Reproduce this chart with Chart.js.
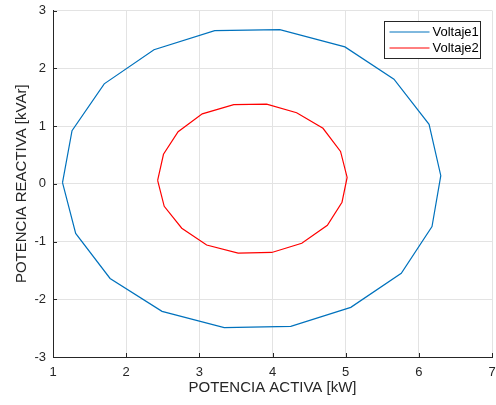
<!DOCTYPE html>
<html>
<head>
  <meta name="viewport" content="width=device-width, initial-scale=1.0">
  <title>Potencia activa vs reactiva</title>
  <script src="https://cdn.jsdelivr.net/npm/chart.js"></script>
  <style>
    body {
      margin: 0;
      padding: 0;
      background: #ffffff;
    }
    #wrap {
      width: 496px;
      height: 405px;
    }
  </style>
</head>
<body>
  <div id="wrap"><canvas id="myChart" width="496" height="405"></canvas></div>

  <script>
    // Datos: potencia activa (kW) y reactiva (kVAr) de cada curva
    const p1 = [1.13, 1.26, 1.70, 2.38, 3.21, 4.10, 4.99, 5.66, 6.14, 6.30, 6.18, 5.76, 5.07, 4.25, 3.34, 2.49, 1.78, 1.31, 1.13];
    const q1 = [0.02, 0.92, 1.73, 2.32, 2.65, 2.67, 2.37, 1.81, 1.03, 0.14, -0.74, -1.55, -2.14, -2.47, -2.49, -2.21, -1.64, -0.86, 0.02];
    const p2 = [2.43, 2.51, 2.71, 3.04, 3.47, 3.92, 4.33, 4.69, 4.93, 5.02, 4.95, 4.75, 4.40, 3.99, 3.53, 3.10, 2.76, 2.52, 2.43];
    const q2 = [0.06, 0.51, 0.90, 1.21, 1.37, 1.38, 1.23, 0.96, 0.56, 0.11, -0.32, -0.72, -1.03, -1.19, -1.20, -1.06, -0.77, -0.39, 0.06];

    const etiquetas = ['Voltaje1', 'Voltaje2'];
    const colores = ['#0072BD', '#FF0000'];
    const xTicks = [1, 2, 3, 4, 5, 6, 7];
    const yTicks = [-3, -2, -1, 0, 1, 2, 3];

    const fuente = 'Arial, "Liberation Sans", Helvetica, sans-serif';
    const gris = '#262626';

    function puntos(xs, ys) {
      return xs.map((x, i) => ({ x: x, y: ys[i] }));
    }

    // Marcas de los ejes hacia dentro y leyenda en la esquina superior derecha
    const extras = {
      id: 'extras',
      afterDraw(chart) {
        const ctx = chart.ctx;
        const area = chart.chartArea;
        const sx = chart.scales.x;
        const sy = chart.scales.y;
        ctx.save();
        ctx.strokeStyle = gris;
        ctx.lineWidth = 1;
        ctx.beginPath();
        xTicks.forEach(v => {
          const px = Math.round(sx.getPixelForValue(v)) + 0.5;
          ctx.moveTo(px, area.bottom);
          ctx.lineTo(px, area.bottom - 4);
        });
        yTicks.forEach(v => {
          const py = Math.round(sy.getPixelForValue(v)) + 0.5;
          ctx.moveTo(area.left, py);
          ctx.lineTo(area.left + 4, py);
        });
        ctx.stroke();

        // leyenda
        const lx = 384.5, ly = 21.5, lw = 96, lh = 37;
        ctx.fillStyle = '#ffffff';
        ctx.fillRect(lx, ly, lw, lh);
        ctx.strokeStyle = gris;
        ctx.strokeRect(lx, ly, lw, lh);
        ctx.font = '13px ' + fuente;
        ctx.textBaseline = 'middle';
        chart.data.datasets.forEach((ds, i) => {
          const y = ly + 10.5 + i * 16;
          ctx.strokeStyle = ds.borderColor;
          ctx.beginPath();
          ctx.moveTo(lx + 5, y);
          ctx.lineTo(lx + 45, y);
          ctx.stroke();
          ctx.fillStyle = '#000000';
          ctx.fillText(ds.label, lx + 48, y + 0.5);
        });
        ctx.restore();
      }
    };

    const ctx = document.getElementById('myChart').getContext('2d');
    const chart = new Chart(ctx, {
      type: 'scatter',
      data: {
        datasets: [
          {
            label: etiquetas[0],
            data: puntos(p1, q1),
            borderColor: colores[0],
            backgroundColor: colores[0],
            borderWidth: 1.2,
            showLine: true,
            pointRadius: 0,
            tension: 0
          },
          {
            label: etiquetas[1],
            data: puntos(p2, q2),
            borderColor: colores[1],
            backgroundColor: colores[1],
            borderWidth: 1.2,
            showLine: true,
            pointRadius: 0,
            tension: 0
          }
        ]
      },
      options: {
        responsive: false,
        animation: false,
        layout: {
          padding: { left: 0, top: 10.5, right: 4, bottom: 0 }
        },
        plugins: {
          legend: { display: false },
          tooltip: { enabled: false }
        },
        scales: {
          x: {
            type: 'linear',
            min: 1,
            max: 7,
            afterBuildTicks: axis => { axis.ticks = xTicks.map(v => ({ value: v })); },
            afterFit: axis => {
              axis.height = 48;
              axis.paddingLeft = 0;
              axis.paddingRight = 0;
            },
            grid: { color: '#e3e3e3', drawTicks: false },
            border: { color: gris, width: 1 },
            ticks: {
              padding: 8,
              color: gris,
              font: { family: fuente, size: 13 }
            },
            title: {
              display: true,
              text: 'POTENCIA ACTIVA [kW]',
              color: gris,
              padding: { top: 0, bottom: 8 },
              font: { family: fuente, size: 15 }
            }
          },
          y: {
            type: 'linear',
            min: -3,
            max: 3,
            afterBuildTicks: axis => { axis.ticks = yTicks.map(v => ({ value: v })); },
            afterFit: axis => {
              axis.width = 53;
              axis.paddingTop = 0;
              axis.paddingBottom = 0;
            },
            grid: { color: '#e3e3e3', drawTicks: false },
            border: { color: gris, width: 1 },
            ticks: {
              padding: 7,
              color: gris,
              font: { family: fuente, size: 13 }
            },
            title: {
              display: true,
              text: 'POTENCIA REACTIVA [kVAr]',
              color: gris,
              padding: { top: 13, bottom: 0 },
              font: { family: fuente, size: 15 }
            }
          }
        }
      },
      plugins: [extras]
    });
  </script>
</body>
</html>
